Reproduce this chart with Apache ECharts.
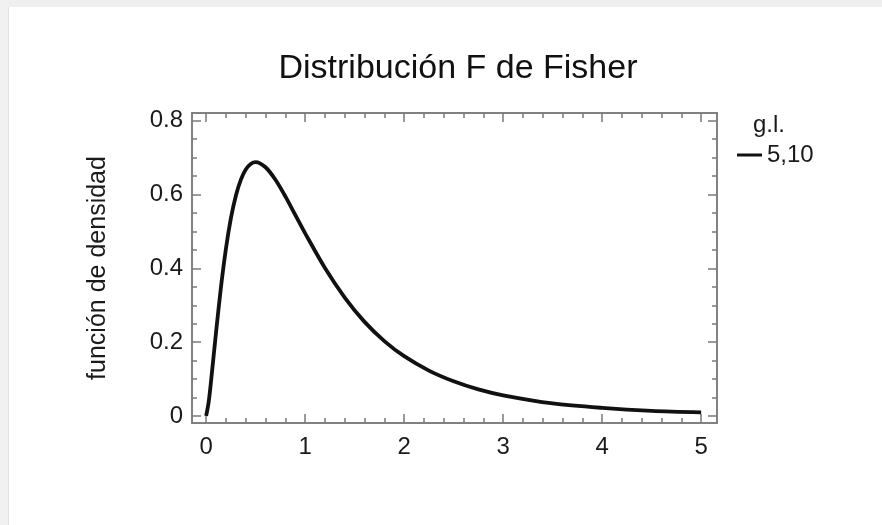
<!DOCTYPE html>
<html>
<head>
<meta charset="utf-8">
<script src="https://cdn.jsdelivr.net/npm/echarts@6/dist/echarts.min.js"></script>
<style>
html,body{margin:0;padding:0;background:#ffffff;}
#chart{width:882px;height:525px;}
</style>
</head>
<body>
<div id="chart"></div>
<script>
// values
var xValues = [0, 0.025, 0.05, 0.1, 0.15, 0.2, 0.25, 0.3, 0.35, 0.4, 0.45, 0.5, 0.6, 0.7, 0.8, 0.9, 1.0, 1.2, 1.4, 1.6, 1.8, 2.0, 2.25, 2.5, 2.75, 3.0, 3.5, 4.0, 4.5, 5.0];
var densityValues = [0, 0.037, 0.096, 0.227, 0.350, 0.454, 0.536, 0.597, 0.640, 0.668, 0.683, 0.688, 0.674, 0.640, 0.595, 0.545, 0.495, 0.401, 0.321, 0.255, 0.203, 0.162, 0.123, 0.094, 0.072, 0.056, 0.034, 0.022, 0.014, 0.010];
var xTickLabels = [0, 1, 2, 3, 4, 5];
var xMinorTicks = [0.2, 0.4, 0.6, 0.8, 1.2, 1.4, 1.6, 1.8, 2.2, 2.4, 2.6, 2.8, 3.2, 3.4, 3.6, 3.8, 4.2, 4.4, 4.6, 4.8];
var yTickLabels = [0, 0.2, 0.4, 0.6, 0.8];
var yMinorTicks = [0.05, 0.1, 0.15, 0.25, 0.3, 0.35, 0.45, 0.5, 0.55, 0.65, 0.7, 0.75];
var seriesName = '5,10';
var legendTitle = 'g.l.';
var chartTitle = 'Distribución F de Fisher';
var yAxisTitle = 'función de densidad';

var FONT = '"Liberation Sans", Arial, Helvetica, sans-serif';
var AXIS_COLOR = '#7a7a7a';
var X_MIN = -0.143, X_MAX = 5.16, Y_MIN = -0.019, Y_MAX = 0.821;

function xAx(pos, ticks, len, labels) {
  return {
    type: 'value', position: pos, min: X_MIN, max: X_MAX,
    axisLine: {show: true, onZero: false, lineStyle: {color: AXIS_COLOR, width: 1.5}},
    axisTick: {show: true, inside: true, length: len, customValues: ticks, lineStyle: {color: AXIS_COLOR, width: 1.5}},
    axisLabel: labels ? {show: true, customValues: labels, fontSize: 24, color: '#1a1a1a', fontFamily: FONT, margin: 12,
      formatter: function (v) { return String(v); }} : {show: false},
    splitLine: {show: false}
  };
}
function yAx(pos, ticks, len, labels) {
  return {
    type: 'value', position: pos, min: Y_MIN, max: Y_MAX,
    axisLine: {show: true, onZero: false, lineStyle: {color: AXIS_COLOR, width: 1.5}},
    axisTick: {show: true, inside: true, length: len, customValues: ticks, lineStyle: {color: AXIS_COLOR, width: 1.5}},
    axisLabel: labels ? {show: true, customValues: labels, fontSize: 24, color: '#1a1a1a', fontFamily: FONT, margin: 9,
      formatter: function (v) { return String(v); }} : {show: false},
    splitLine: {show: false}
  };
}

var yMain = yAx('left', yTickLabels, 9, yTickLabels);
yMain.name = yAxisTitle;
yMain.nameLocation = 'middle';
yMain.nameGap = 81;
yMain.nameTextStyle = {fontSize: 25, color: '#1a1a1a', fontFamily: FONT};

var data = xValues.map(function (x, i) { return [x, densityValues[i]]; });

var chart = echarts.init(document.getElementById('chart'), null, {renderer: 'canvas'});
chart.setOption({
  backgroundColor: '#ffffff',
  animation: false,
  title: {
    text: chartTitle, left: 453, top: 47, textAlign: 'center',
    textStyle: {fontSize: 34, fontWeight: 'normal', color: '#111', fontFamily: FONT}
  },
  graphic: [
    {type: 'rect', shape: {x: 0, y: 0, width: 882, height: 7}, style: {fill: '#efefef'}, z: -10, silent: true},
    {type: 'rect', shape: {x: 0, y: 0, width: 9, height: 525}, style: {fill: '#f1f1f1'}, z: -10, silent: true},
    {type: 'rect', shape: {x: 8, y: 7, width: 1, height: 518}, style: {fill: '#e2e2e2'}, z: -9, silent: true},
    {type: 'text', left: 753, top: 113, style: {text: legendTitle, fontSize: 24, fill: '#1a1a1a', fontFamily: FONT}}
  ],
  legend: {
    show: true, left: 732, top: 138, orient: 'vertical',
    itemWidth: 25, itemHeight: 3, itemGap: 5, icon: 'rect',
    textStyle: {fontSize: 24, color: '#1a1a1a', fontFamily: FONT, padding: [0, 0, 0, 0]},
    data: [seriesName]
  },
  grid: {left: 192, right: 165, top: 113, bottom: 102, containLabel: false},
  xAxis: [
    xAx('bottom', xTickLabels, 9, xTickLabels),
    xAx('bottom', xMinorTicks, 5, null),
    xAx('top', xTickLabels, 9, null),
    xAx('top', xMinorTicks, 5, null)
  ],
  yAxis: [
    yMain,
    yAx('left', yMinorTicks, 5, null),
    yAx('right', yTickLabels, 9, null),
    yAx('right', yMinorTicks, 5, null)
  ],
  series: [{
    name: seriesName, type: 'line', xAxisIndex: 0, yAxisIndex: 0,
    data: data, smooth: 0.3, showSymbol: false, symbol: 'none',
    lineStyle: {color: '#111', width: 3.8}, itemStyle: {color: '#111'}
  }]
});
</script>
</body>
</html>
